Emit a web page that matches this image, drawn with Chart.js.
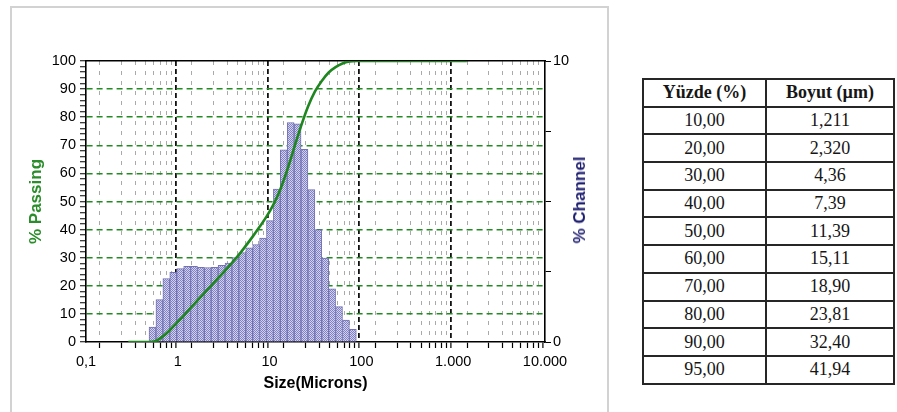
<!DOCTYPE html>
<html>
<head>
<meta charset="utf-8">
<script src="https://cdn.jsdelivr.net/npm/chart.js@4.4.1/dist/chart.umd.min.js"></script>
<style>
  html, body { margin: 0; padding: 0; background: #fff; }
  body { width: 897px; height: 412px; position: relative; overflow: hidden; }
  #frame { position: absolute; left: 10px; top: 6px; width: 599px; height: 430px;
           border: 2px solid #d2d2d2; box-sizing: border-box; }
  #chartBox { position: absolute; left: 0; top: 0; width: 610px; height: 412px; }
  #channelTitle { position: absolute; left: 580px; top: 200px; white-space: nowrap;
                  transform: translate(-50%, -50%) rotate(-90deg);
                  font: bold 17px "Liberation Sans", Arial, sans-serif; color: #1e1e70; }
  #sizeTable { position: absolute; left: 642px; top: 78px; display: grid;
               grid-template-columns: 123px 128px; grid-auto-rows: 27.7px;
               border-top: 2px solid #262626; border-left: 2px solid #262626;
               font-family: "Liberation Serif", "Times New Roman", serif; font-size: 18px; color: #161616; }
  #sizeTable .cell { box-sizing: border-box; border-right: 2px solid #262626; border-bottom: 2px solid #262626;
                     display: flex; align-items: center; justify-content: center; white-space: nowrap; }
  #sizeTable .head { font-weight: bold; }
</style>
</head>
<body>
<div id="frame"></div>
<div id="chartBox"><canvas id="psd" width="610" height="412"></canvas></div>
<div id="channelTitle">% Channel</div>
<div id="sizeTable"></div>

<script>
// Channel limits (µm) and the percentage of material in each channel
const channelEdges = [0.486, 0.578, 0.688, 0.818, 0.972, 1.16, 1.38, 1.64, 1.94, 2.31, 2.75,
  3.27, 3.89, 4.62, 5.5, 6.54, 7.78, 9.25, 11, 13.08, 15.56, 18.5, 22, 26.16, 31.11, 37, 44,
  52.33, 62.23, 74, 88];
const channelPercent = [0.53, 1.51, 2.26, 2.48, 2.61, 2.69, 2.69, 2.66, 2.65, 2.66, 2.73, 2.81,
  3.00, 3.18, 3.35, 3.47, 3.70, 4.32, 5.44, 6.84, 7.81, 7.76, 6.86, 5.42, 4.00, 2.99, 1.89,
  1.26, 0.78, 0.45];

// Cumulative undersize curve (% passing) at each size
const passingSizes = [0.289, 0.344, 0.409, 0.486, 0.578, 0.688, 0.818, 0.972, 1.16, 1.38, 1.64,
  1.94, 2.31, 2.75, 3.27, 3.89, 4.62, 5.5, 6.54, 7.78, 9.25, 11, 13.08, 15.56, 18.5, 22, 26.16,
  31.11, 37, 44, 52.33, 62.23, 74, 88, 104.7, 124.5, 148, 176, 209.3, 248.9, 296, 352, 418.6,
  497.8, 592, 704, 837, 995.6, 1184, 1408];
const passingPercent = [0, 0, 0, 0, 0.4, 2.0, 4.2, 6.8, 9.4, 12.1, 14.8,
  17.4, 20.0, 22.7, 25.4, 28.2, 31.0, 34.2, 37.5, 41.0, 44.6, 48.9, 54.3, 61.2, 69.1, 76.8, 83.7,
  89.1, 92.9, 95.9, 97.8, 99.1, 99.8, 100, 100, 100, 100, 100, 100, 100, 100, 100, 100,
  100, 100, 100, 100, 100, 100, 100];

// Axis labelling
const xDecades = [0.1, 1, 10, 100, 1000, 10000];
const xDecadeLabels = ['0,1', '1', '10', '100', '1.000', '10.000'];
const yLabelValues = [0, 10, 20, 30, 40, 50, 60, 70, 80, 90, 100];
const y2LabelValues = [0, 10];

// Percentile table
const tableHeader = ['Yüzde (%)', 'Boyut (µm)'];
const tablePercent = ['10,00', '20,00', '30,00', '40,00', '50,00', '60,00', '70,00', '80,00', '90,00', '95,00'];
const tableSize = ['1,211', '2,320', '4,36', '7,39', '11,39', '15,11', '18,90', '23,81', '32,40', '41,94'];

// ---- table ----
const table = document.getElementById('sizeTable');
function addCell(text, cls) {
  const d = document.createElement('div');
  d.className = cls; d.textContent = text; table.appendChild(d);
}
tableHeader.forEach(t => addCell(t, 'cell head'));
tablePercent.forEach((p, i) => { addCell(p, 'cell'); addCell(tableSize[i], 'cell'); });

// ---- chart ----
Chart.defaults.font.family = '"Liberation Sans", Arial, sans-serif';
Chart.defaults.color = '#000';

const GREEN = '#228b22';
const NONE = 'rgba(0,0,0,0)';
const near = (a, b) => Math.abs(a / b - 1) < 1e-6;
const isDecade = v => xDecades.some(d => near(v, d));
const isXEdge = v => near(v, xDecades[0]) || near(v, xDecades[xDecades.length - 1]);

// tick positions on the log axis: 1..9 within every decade
const xTickValues = [];
for (let i = 0; i < xDecades.length - 1; i++) {
  for (let m = 1; m <= 9; m++) xTickValues.push(Number((m * xDecades[i]).toPrecision(6)));
}
xTickValues.push(xDecades[xDecades.length - 1]);
const yTickValues = [];
for (let v = 0; v <= 100; v += 2) yTickValues.push(v);

// stippled fill for the histogram bars
function barPattern() {
  const c = document.createElement('canvas');
  c.width = 2; c.height = 2;
  const g = c.getContext('2d');
  g.fillStyle = '#d2d2ee'; g.fillRect(0, 0, 2, 2);
  g.fillStyle = '#8282c2'; g.fillRect(0, 0, 1, 1); g.fillRect(1, 1, 1, 1);
  return g.createPattern(c, 'repeat');
}

const barData = channelPercent.map((v, i) => ({ x: Math.sqrt(channelEdges[i] * channelEdges[i + 1]), y: v }));
const lineData = passingSizes.map((s, i) => ({ x: s, y: passingPercent[i] }));

new Chart(document.getElementById('psd'), {
  type: 'bar',
  data: {
    datasets: [
      {
        type: 'line', label: '% Passing', data: lineData, yAxisID: 'y', xAxisID: 'x',
        borderColor: '#1f861f', borderWidth: 2.6, pointRadius: 0, fill: false,
        cubicInterpolationMode: 'monotone', order: 0
      },
      {
        type: 'bar', label: '% Channel', data: barData, yAxisID: 'y2', xAxisID: 'x',
        backgroundColor: barPattern(), borderColor: '#7272b4', borderWidth: 1,
        barThickness: 'flex', categoryPercentage: 1, barPercentage: 1, order: 1
      }
    ]
  },
  options: {
    responsive: false,
    animation: false,
    layout: { padding: { top: 61, left: 0, right: 0, bottom: 0 } },
    plugins: { legend: { display: false }, tooltip: { enabled: false } },
    scales: {
      x: {
        type: 'logarithmic', position: 'bottom', min: 0.1, max: 10000, offset: false,
        afterBuildTicks: s => { s.ticks = xTickValues.map(v => ({ value: v })); },
        afterFit: s => { s.height = 70; },
        ticks: {
          autoSkip: false, maxRotation: 0, minRotation: 0, padding: 5, color: '#000',
          font: { size: 14.5 },
          callback: v => { const i = xDecades.findIndex(d => near(v, d)); return i >= 0 ? xDecadeLabels[i] : ''; }
        },
        grid: {
          drawOnChartArea: true, drawTicks: true, tickLength: 6, tickWidth: 1.2, tickColor: '#000',
          color: c => { const v = c.tick && c.tick.value; if (v == null || isXEdge(v)) return NONE; return isDecade(v) ? '#111' : '#aaaaaa'; },
          lineWidth: c => { const v = c.tick && c.tick.value; return (v != null && isDecade(v)) ? 1.8 : 1; }
        },
        border: {
          display: true, color: '#000', width: 1.6,
          dash: c => { const v = c.tick && c.tick.value; if (v == null) return []; return isDecade(v) ? [5, 3] : [4, 6]; }
        },
        title: { display: true, text: 'Size(Microns)', color: '#000', font: { size: 16, weight: 'bold' }, padding: { top: 0, bottom: 19 } }
      },
      x2: {
        type: 'linear', position: 'top', min: 0, max: 1,
        afterFit: s => { s.height = 0; },
        ticks: { display: false }, grid: { drawOnChartArea: false, drawTicks: false },
        border: { display: true, color: '#000', width: 1.6 }
      },
      y: {
        position: 'left', min: 0, max: 100,
        afterBuildTicks: s => { s.ticks = yTickValues.map(v => ({ value: v })); },
        afterFit: s => { s.width = 86; },
        ticks: {
          autoSkip: false, padding: 4, color: '#000', font: { size: 14.5 },
          callback: v => yLabelValues.includes(v) ? String(v) : ''
        },
        grid: {
          drawTicks: true, tickLength: 6, tickWidth: 1, tickColor: '#000',
          color: c => { const v = c.tick && c.tick.value; return (v != null && v % 10 === 0 && v > 0 && v < 100) ? GREEN : NONE; },
          lineWidth: 1.5
        },
        border: { display: true, color: '#000', width: 1.6, dash: [6, 4] },
        title: { display: true, text: '% Passing', color: '#2a8c2a', font: { size: 17, weight: 'bold' }, padding: { top: 26, bottom: 0 } }
      },
      y2: {
        position: 'right', min: 0, max: 10,
        afterBuildTicks: s => { s.ticks = [0, 2.5, 5, 7.5, 10].map(v => ({ value: v })); },
        afterFit: s => { s.width = 65; },
        ticks: {
          autoSkip: false, padding: 2, color: '#000', font: { size: 14.5 },
          callback: v => y2LabelValues.includes(v) ? String(v) : ''
        },
        grid: { drawOnChartArea: false, drawTicks: true, tickLength: 6, tickWidth: 1, tickColor: '#000' },
        border: { display: true, color: '#000', width: 1.6 }
      }
    }
  }
});
</script>
</body>
</html>
